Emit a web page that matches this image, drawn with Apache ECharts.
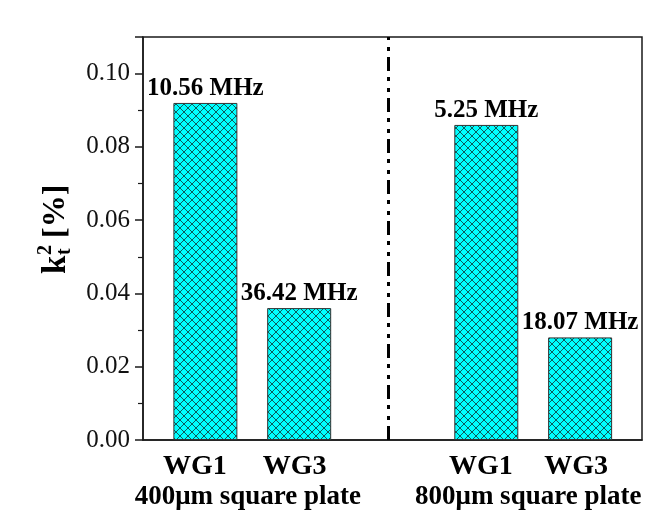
<!DOCTYPE html>
<html>
<head>
<meta charset="utf-8">
<script src="https://cdn.jsdelivr.net/npm/echarts@6/dist/echarts.min.js"></script>
<style>
  html, body { margin: 0; padding: 0; background: #fff; }
  #chart { width: 670px; height: 522px; }
</style>
</head>
<body>
<div id="chart"></div>
<script>
// bar positions on a 0..10 value x axis (bars are not evenly spaced)
const barPos = [1.25, 3.13, 6.88, 8.76]
const kt2 = [0.092, 0.036, 0.086, 0.028]
const freqLabels = ['10.56 MHz', '36.42 MHz', '5.25 MHz', '18.07 MHz']
const waveguides = ['WG1', 'WG3', 'WG1', 'WG3']
const wgLabelPos = [1.04, 3.04, 6.77, 8.68]
const plates = ['400μm square plate', '800μm square plate']
const platePos = [2.1, 7.72]
const dividerPos = 4.91
const yTicks = [0, 0.02, 0.04, 0.06, 0.08, 0.1]

const FONT = '"Liberation Serif", "Times New Roman", serif'
const AXIS_COLOR = '#1a1a1a'

// cyan crosshatch fill
const makeHatch = () => {
  const c = document.createElement('canvas')
  c.width = 8
  c.height = 8
  const g = c.getContext('2d')
  g.fillStyle = '#00ffff'
  g.fillRect(0, 0, 8, 8)
  g.strokeStyle = '#0d5c5c'
  g.lineWidth = 1
  g.beginPath()
  g.moveTo(-2, -2); g.lineTo(10, 10)
  g.moveTo(10, -2); g.lineTo(-2, 10)
  g.stroke()
  return c
}

const chart = echarts.init(document.getElementById('chart'), null, { renderer: 'canvas' })

const option = {
  backgroundColor: '#fff',
  animation: false,
  grid: {
    left: 143, right: 28, top: 37, bottom: 82,
    show: true,
    borderColor: AXIS_COLOR,
    borderWidth: 1.5,
  },
  xAxis: [
    {
      type: 'value',
      min: 0,
      max: 10,
      splitLine: { show: false },
      axisTick: { show: false },
      axisLine: { show: true, lineStyle: { color: AXIS_COLOR, width: 1.5 } },
      axisLabel: {
        customValues: wgLabelPos,
        formatter: (v) => waveguides[wgLabelPos.indexOf(v)] || '',
        fontFamily: FONT,
        fontWeight: 'bold',
        fontSize: 28,
        color: '#000',
        margin: 13,
      },
    },
    {
      type: 'value',
      min: 0,
      max: 10,
      position: 'bottom',
      splitLine: { show: false },
      axisTick: { show: false },
      axisLine: { show: false },
      axisLabel: {
        customValues: platePos,
        formatter: (v) => plates[platePos.indexOf(v)] || '',
        fontFamily: FONT,
        fontWeight: 'bold',
        fontSize: 27,
        color: '#000',
        margin: 44,
      },
    },
  ],
  yAxis: {
    type: 'value',
    min: 0,
    max: 0.11,
    interval: 0.02,
    splitLine: { show: false },
    axisLine: { show: true, lineStyle: { color: AXIS_COLOR, width: 1.5 } },
    axisTick: { show: true, inside: false, length: 8, lineStyle: { color: AXIS_COLOR, width: 1.5 } },
    minorTick: { show: true, splitNumber: 2, length: 5, lineStyle: { color: AXIS_COLOR, width: 1.2 } },
    axisLabel: {
      customValues: yTicks,
      formatter: (v) => v.toFixed(2),
      fontFamily: FONT,
      fontSize: 25,
      color: '#111',
      margin: 13,
    },
  },
  series: [
    {
      type: 'bar',
      xAxisIndex: 0,
      barWidth: 64,
      data: barPos.map((x, i) => [x, kt2[i]]),
      itemStyle: {
        color: { image: makeHatch(), repeat: 'repeat' },
        borderColor: '#333',
        borderWidth: 1,
      },
      label: {
        show: true,
        position: 'top',
        distance: 2,
        formatter: (p) => freqLabels[p.dataIndex],
        fontFamily: FONT,
        fontWeight: 'bold',
        fontSize: 25,
        color: '#000',
      },
      markLine: {
        silent: true,
        symbol: 'none',
        label: { show: false },
        lineStyle: { color: '#000', width: 3, type: [14, 6, 4, 7, 4, 6] },
        data: [{ xAxis: dividerPos }],
      },
    },
  ],
  graphic: [
    {
      // y axis title: k_t^2 [%], rotated
      type: 'group',
      x: 56,
      y: 238,
      rotation: Math.PI / 2,
      children: [
        { type: 'text', x: -36, y: 0, style: { text: 'k', font: 'bold 33px ' + FONT, fill: '#000', align: 'left', verticalAlign: 'middle' } },
        { type: 'text', x: -17, y: -10, style: { text: '2', font: 'bold 20px ' + FONT, fill: '#000', align: 'left', verticalAlign: 'middle' } },
        { type: 'text', x: -17, y: 9, style: { text: 't', font: 'bold 20px ' + FONT, fill: '#000', align: 'left', verticalAlign: 'middle' } },
        { type: 'text', x: 0, y: 0, style: { text: '[%]', font: 'bold 32px ' + FONT, fill: '#000', align: 'left', verticalAlign: 'middle' } },
      ],
    },
  ],
}

chart.setOption(option)
</script>
</body>
</html>
